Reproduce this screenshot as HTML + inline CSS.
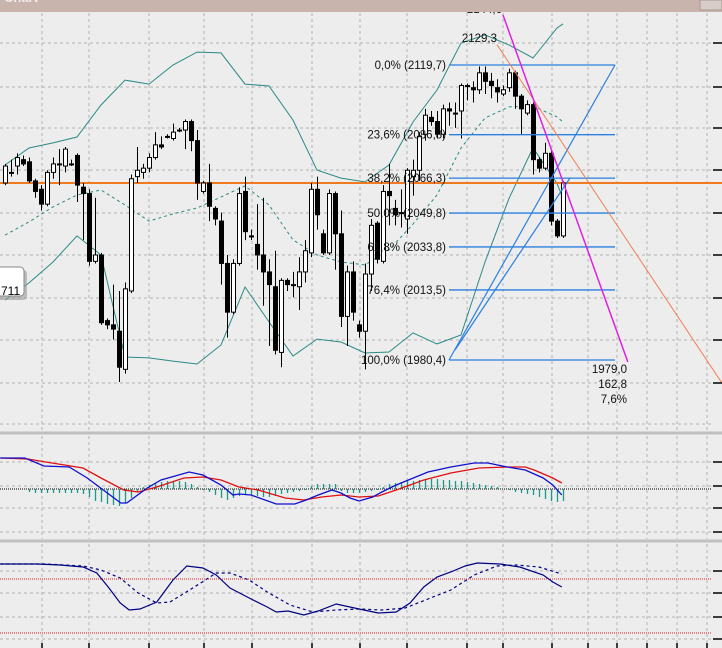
<!DOCTYPE html>
<html><head><meta charset="utf-8">
<style>
html,body{margin:0;padding:0;background:#ededed;}
svg{display:block;font-family:"Liberation Sans",sans-serif;}
</style></head>
<body>
<svg id="chart" width="722" height="648" viewBox="0 0 722 648" xmlns="http://www.w3.org/2000/svg">
<rect x="0" y="0" width="722" height="648" fill="#ededed"/>
<g id="grid"></g>
<g id="bands"></g>
<g id="candles"></g>
<g id="drawings"></g>
<g id="macd"></g>
<g id="stoch"></g>
<g id="axes"></g>
<rect x="0" y="0" width="722" height="12" fill="#c8b3ad"/>
<text x="4" y="2" font-size="13" fill="#f4ecea" font-weight="bold">Chart</text>
<rect x="700" y="0" width="22" height="10" fill="#d8ccc8" stroke="#a89890" stroke-width="1"/>
<g>
<rect x="-6" y="270" width="33" height="30" rx="4" fill="#9a9a9a" opacity="0.6"/>
<rect x="-6" y="267" width="30" height="29" rx="4" fill="#ffffff" stroke="#888" stroke-width="1"/>
<text x="1" y="295" font-size="12" fill="#000">711</text>
</g>
</svg>
<script>
// ---------- DATA ----------
const opens  = [2064,2069,2072,2075,2074,2065,2061,2054,2069,2073,2072,2073,2077,2062,2059,2027,2030,1999,1997,1994,1976,2013,2067,2069,2071,2076,2082,2086,2085,2089,2089,2093,2084,2060,2064,2052,2046,2026,2003,2026,2060,2039,2035,2030,2022,2015,1984,2018,2016,2015,2022,2031,2061,2040,2031,2059,2040,2001,2022,1997,1994,2021,2045,2027,2060,2052,2050,2047,2067,2070,2087,2095,2093,2087,2099,2097,2098,2110,2109,2108,2116,2112,2109,2106,2109,2116,2105,2097,2101,2075,2071,2078,2046,2039];
const highs  = [2073,2075,2078,2077,2076,2066,2063,2070,2076,2080,2081,2075,2078,2064,2061,2057,2031,2000,2016,2013,2017,2068,2081,2073,2078,2088,2086,2087,2092,2090,2094,2094,2089,2065,2073,2053,2050,2030,2028,2062,2067,2042,2054,2057,2028,2032,2019,2019,2022,2029,2037,2064,2067,2042,2061,2060,2051,2025,2027,1999,2026,2047,2046,2063,2073,2056,2061,2071,2075,2088,2099,2098,2098,2101,2102,2102,2111,2111,2112,2119,2119,2116,2113,2110,2118,2117,2106,2103,2102,2076,2083,2080,2047,2065];
const lows   = [2063,2067,2068,2072,2064,2057,2051,2053,2066,2063,2069,2072,2055,2037,2025,2026,1997,1995,1990,1970,1974,2012,2064,2066,2069,2075,2080,2085,2084,2088,2080,2079,2056,2059,2046,2044,2016,1991,2002,2025,2037,2037,2023,2006,1987,1983,1977,2013,2010,2004,2017,2029,2042,2030,2030,2023,1996,1987,1999,1991,1976,2013,2026,2026,2044,2044,2043,2040,2058,2065,2084,2091,2085,2085,2091,2090,2085,2103,2102,2106,2106,2104,2102,2105,2107,2099,2087,2096,2068,2069,2070,2044,2038,2038];
const closes = [2072,2069,2076,2073,2065,2060,2054,2069,2073,2073,2080,2073,2063,2059,2027,2030,1998,1997,1995,1977,2014,2066,2070,2071,2076,2082,2081,2086,2088,2089,2093,2084,2064,2064,2053,2047,2026,2003,2026,2059,2041,2039,2030,2022,2016,1985,2018,2016,2016,2022,2032,2061,2049,2031,2059,2040,2001,2022,2003,1994,2021,2044,2028,2060,2058,2049,2050,2070,2070,2086,2096,2093,2087,2099,2098,2097,2110,2110,2108,2116,2112,2110,2107,2108,2116,2105,2099,2101,2075,2071,2078,2046,2039,2064];

const bandIdx   = [0,4,8,12,16,20,24,28,32,36,40,44,48,52,56,60,64,68,72,76,80,84,88,92,93];
const bandUpper = [2072.5,2080.5,2082.9,2085.7,2100.8,2112.6,2110.7,2119.7,2125.8,2125.4,2110.7,2109.8,2093.7,2070.1,2066.3,2064.5,2072.5,2092.8,2107.9,2130.1,2133.9,2129.2,2123.0,2137.2,2139.1];
const bandMid   = [2039.4,2045.6,2052.7,2058.3,2060.7,2053.6,2046.0,2049.4,2052.2,2057.4,2062.6,2053.6,2037.1,2030.0,2026.7,2025.3,2032.4,2044.6,2058.3,2080.5,2094.7,2099.9,2100.3,2095.2,2092.8];
const bandLower = [2008.7,2016.8,2026.7,2039.0,2030.0,1981.8,1981.4,1979.9,1978.5,1987.5,2014.9,1998.4,1982.3,1990.3,1988.9,1983.7,1984.2,1993.2,1988.0,1992.2,2026.7,2056.7,2080.6,2063.8,2056.7];

const fibLevels = ["0,0%","23,6%","38,2%","50,0%","61,8%","76,4%","100,0%"];
const fibPrices = [2119.7,2086.8,2066.3,2049.8,2033.8,2013.5,1980.4];
const horizPrice = 2064.0;

const macdIdx = [-0.8,3.3,6.5,10.7,13.7,17.5,19.3,20.3,23.7,26,30.7,33,36,38,39,41,45.2,48.3,50.2,52.2,54.5,56,57.5,59,61.3,62.8,65.2,70.5,74.3,78.2,80.5,83.7,86.7,89.7,91.3,92.8];
const macdVals = [3.1,3.1,2.3,2.2,1.1,-0.6,-1.4,-1.4,0.1,0.9,1.7,1.4,0.4,-0.6,-0.5,-0.6,-1.5,-1.5,-1.1,-0.6,-0.1,-0.4,-0.9,-1.2,-0.8,-0.3,0.4,1.7,2.2,2.6,2.6,2.2,1.9,1.1,0.4,-0.6];
const sigIdx   = [-0.8,3.8,6.8,13,16,19.8,22.2,25.3,29.8,33,36,39,42.2,46.7,49.8,52.8,56,59,62.2,65.2,69.8,74.3,79,83.7,86.7,88.2,91.3,92.8];
const sigVals  = [3.1,3.0,2.7,2.1,1.1,-0.1,-0.3,0.2,1.1,1.2,0.9,0.2,-0.1,-0.9,-1.1,-0.8,-0.6,-0.8,-0.7,-0.1,0.9,1.6,2.1,2.2,2.2,1.9,1.1,0.6];
const histVals = [0,0,0,0,-0.3,-0.4,-0.4,-0.4,-0.4,-0.4,-0.4,-0.4,-0.4,-0.5,-0.8,-1.2,-1.3,-1.5,-1.6,-1.7,-1.4,-0.9,-0.3,0.2,0.4,0.6,0.7,0.8,0.8,0.8,0.7,0.5,0.2,-0.1,-0.3,-0.6,-0.9,-1.1,-0.9,-0.7,-0.6,-0.6,-0.7,-0.8,-0.8,-0.7,-0.5,-0.4,-0.3,-0.2,-0.1,0.3,0.5,0.5,0.5,0.5,-0.2,-0.4,-0.4,-0.4,-0.3,-0.2,-0.1,0.2,0.5,0.6,0.7,0.8,0.8,0.9,0.9,1.0,1.0,0.9,0.9,0.8,0.8,0.7,0.6,0.5,0.4,0.3,0.2,0,-0.1,-0.3,-0.4,-0.5,-0.6,-0.8,-1.0,-1.2,-1.3,-1.2];

const kIdx  = [-0.8,5.3,9.2,13,15.3,17.2,19.2,20.7,22.5,25.3,28,30.3,33,35.2,37.5,40.7,43.7,45.2,47.2,49.8,52.2,55.2,57.5,59.8,62.2,65.2,67.5,69.8,72,74.3,76.7,78.7,82.5,85.8,89.7,91.3,92.8];
const kVals = [96.7,96.7,95.6,93.3,86.7,71.1,53.3,45.6,46.7,54.4,78.9,94.4,92.2,84.4,70,58.9,48.9,43.3,44.4,40,44.4,52.2,48.9,45.6,42.2,43.3,53.3,71.1,82.2,87.8,94.4,97.8,96.7,93.3,84.4,76.7,71.1];
const dIdx  = [-0.8,6.8,13,16,19.2,22.2,25.3,27.5,31.3,35.2,37.5,40.7,43.7,47.5,51.3,55.2,59,62.8,66.7,70.5,74.3,78.2,82,85.2,89,92.8];
const dVals = [96.7,96.7,94.4,90,81.1,64.4,53.3,54.4,70,86.7,86.7,78.9,65.6,51.1,43.3,45.6,46.7,45.6,47.8,57.8,67.8,84.4,94.4,95.6,93.3,85.6];
const stochLevels = [80,20];

// ---------- SCALES ----------
const NS = "http://www.w3.org/2000/svg";
const xOf = i => 5 + 6 * i;
const yP = p => (2150.4 - p) / 0.4722;
const yM = v => 489 - v * 10;
const yS = v => 651 - v * 0.9;
function mk(tag, attrs, parent){ const e=document.createElementNS(NS,tag); for(const k in attrs) e.setAttribute(k,attrs[k]); parent.appendChild(e); return e; }

// ---------- GRID ----------
const grid = document.getElementById('grid');
const vx = [42,89,149,204,252,312,360,407,467,503,552,588,617,647,677,707];
const hMain = [43,87,128,170,213,255,298,340,383,424];
const hMacd = [462,486,508,532];
const hSt = [571,593,617,639];
vx.forEach(x=>{ [[13,431],[436,539],[544,648]].forEach(r=>{
  const l=mk('line',{x1:x,x2:x,y1:r[0],y2:r[1],stroke:'#b4b4b4','stroke-dasharray':'3,3','stroke-width':1},grid);
  
  
});});
hMain.concat(hMacd,hSt).forEach(y=>{
  const l=mk('line',{x1:0,x2:712,y1:y,y2:y,stroke:'#b4b4b4','stroke-dasharray':'3,3','stroke-width':1},grid);
  
  
});
[433,541].forEach(y=>{
  const r=mk('rect',{x:0,y:y-1.5,width:722,height:3,fill:'#c0c0c0'},grid);
  
  
});

// ---------- BANDS ----------
const bands=document.getElementById('bands');
function poly(idx, vals, yf, attrs, parent, name){
  const pts=idx.map((i,k)=>xOf(i).toFixed(1)+','+yf(vals[k]).toFixed(1)).join(' ');
  const p=mk('polyline',Object.assign({points:pts,fill:'none'},attrs),parent);
  
  
  return p;
}
poly(bandIdx,bandUpper,yP,{stroke:'#2a8a84','stroke-width':1},bands,'bollinger-upper');
poly(bandIdx,bandMid,yP,{stroke:'#2a8a84','stroke-width':1,'stroke-dasharray':'3,3'},bands,'bollinger-middle');
poly(bandIdx,bandLower,yP,{stroke:'#2a8a84','stroke-width':1},bands,'bollinger-lower');

const hl=mk('line',{x1:0,x2:722,y1:yP(horizPrice),y2:yP(horizPrice),stroke:'#f07a20','stroke-width':2},bands);



// ---------- CANDLES ----------
const cg=document.getElementById('candles');
opens.forEach((o,i)=>{
  const c=closes[i], x=xOf(i);
  const w=mk('line',{x1:x+0.5,x2:x+0.5,y1:yP(highs[i]),y2:yP(lows[i]),stroke:'#000','stroke-width':1},cg);
  
  
  const top=yP(Math.max(o,c)), bot=yP(Math.min(o,c));
  const h=Math.max(bot-top,1);
  const b=mk('rect',{x:x-1.5,y:top,width:4,height:h,fill:c>=o?'#ffffff':'#000000',stroke:'#000','stroke-width':1},cg);
  
  
});

// ---------- DRAWINGS ----------
const dg=document.getElementById('drawings');
const fx1=449, fx2=615;
fibPrices.forEach((p,k)=>{
  const y=yP(p);
  const l=mk('line',{x1:fx1,x2:fx2,y1:y,y2:y,stroke:'#2a7fe0','stroke-width':1.3},dg);
  
  
  const t=mk('text',{x:446,y:y+4,'font-size':11.5,'text-anchor':'end',fill:'#111'},dg);
  t.textContent=fibLevels[k]+'  ('+p.toFixed(1).replace('.',',')+')';
  
  
});
const d1=mk('line',{x1:fx1,y1:yP(fibPrices[6]),x2:fx2,y2:yP(fibPrices[0]),stroke:'#2a7fe0','stroke-width':1.2},dg);


const d2=mk('line',{x1:455,y1:350,x2:570,y2:178,stroke:'#2a7fe0','stroke-width':1.2},dg);


const od=mk('line',{x1:xOf(82),y1:yP(2129.3),x2:xOf(119.5),y2:yP(1969.5),stroke:'#f08050','stroke-width':1},dg);


const mg=mk('line',{x1:xOf(83),y1:yP(2143.3),x2:xOf(103.8),y2:yP(1979.5),stroke:'#e020e0','stroke-width':1.5},dg);


const t1=mk('text',{x:497,y:42,'font-size':11.5,'text-anchor':'end',fill:'#111'},dg);
t1.textContent='2129,3';


const t0=mk('text',{x:502,y:13,'font-size':11.5,'text-anchor':'end',fill:'#111'},dg);
t0.textContent='2144,6';


['1979,0','162,8','7,6%'].forEach((s,k)=>{
  const t=mk('text',{x:627,y:373+k*15,'font-size':11.5,'text-anchor':'end',fill:'#111'},dg);
  t.textContent=s;
  
  
});

// ---------- MACD ----------
const mgp=document.getElementById('macd');
const z=mk('line',{x1:0,x2:712,y1:yM(0),y2:yM(0),stroke:'#000','stroke-width':1,'stroke-dasharray':'1,1'},mgp);


histVals.forEach((v,i)=>{
  if(v===0) return;
  const l=mk('line',{x1:xOf(i)+0.5,x2:xOf(i)+0.5,y1:yM(0),y2:yM(v),stroke:'#1a9a8a','stroke-width':1.3},mgp);
  
  
});
poly(sigIdx,sigVals,yM,{stroke:'#e01010','stroke-width':1.3},mgp,'macd-signal-line');
poly(macdIdx,macdVals,yM,{stroke:'#1010d0','stroke-width':1.3},mgp,'macd-line');

// ---------- STOCHASTIC ----------
const sg=document.getElementById('stoch');
stochLevels.forEach(v=>{
  const l=mk('line',{x1:0,x2:712,y1:yS(v),y2:yS(v),stroke:'#e02020','stroke-width':1,'stroke-dasharray':'1,1'},sg);
  
  
});
poly(dIdx,dVals,yS,{stroke:'#000080','stroke-width':1.2,'stroke-dasharray':'3,3'},sg,'stochastic-d-line');
poly(kIdx,kVals,yS,{stroke:'#000080','stroke-width':1.2},sg,'stochastic-k-line');

// ---------- AXES ----------
const ax=document.getElementById('axes');
hMain.slice(0,9).concat(hMacd,hSt).forEach(y=>{
  const l=mk('line',{x1:713,x2:722,y1:y,y2:y,stroke:'#000','stroke-width':1.5},ax);
  
  
});
vx.forEach(x=>{
  const l=mk('line',{x1:x,x2:x,y1:643,y2:648,stroke:'#000','stroke-width':1.5},ax);
  
  
});
</script>
</body></html>
